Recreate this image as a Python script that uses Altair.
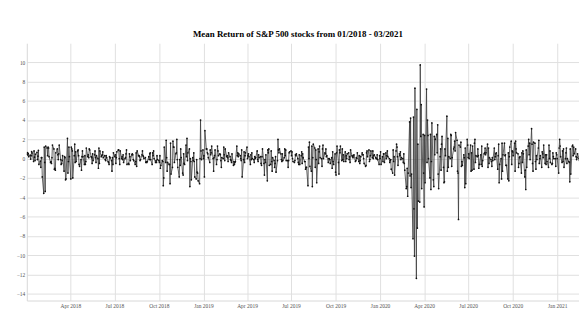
import altair as alt
import pandas as pd

TITLE = "Mean Return of S&P 500 stocks from 01/2018 - 03/2021"

# Daily mean return (%) per month, one value per business day
returns = {
    "2018-01": [0.45, 0.62, 0.38, 0.55, 0.20, 0.35, -0.05, 0.30, 0.72, 0.58, -0.30, 0.80, 0.15, -0.20, 0.45, 0.65, -0.10, 0.25, 0.85, -0.60, -0.25, -0.90, 0.10],
    "2018-02": [0.1, -1.9, -3.6, 1.2, -0.4, -3.4, 1.3, 1.1, 0.3, 1.2, 1.1, 0.2, -0.4, -0.3, -0.5, 0.1, 1.4, 1.0, -1.1, -1.0],
    "2018-03": [-1.2, 0.6, 1.0, 0.4, -0.1, 0.5, 1.4, -0.1, -0.6, -0.5, -0.2, 0.3, -1.3, 0.2, 0.1, -2.2, -2.1, 2.1, -1.5, -0.3, 1.2, 0.2],
    "2018-04": [-2.1, 1.2, 1.0, 0.8, -2.0, 0.3, 1.5, -0.4, 0.7, -0.3, 0.8, 0.9, 0.3, -0.6, -0.8, -0.1, -1.2, 0.2, 0.8, 0.2, -0.6],
    "2018-05": [0.3, -0.6, -0.3, 1.1, 0.2, 0.4, 0.1, 1.0, 0.9, 0.2, 0.1, -0.5, 0.5, -0.2, 0.4, 0.8, 0.1, -0.4, 0.3, 0.0, -1.0, 1.1, -0.5],
    "2018-06": [0.8, 0.2, 0.3, 0.4, 0.7, 0.1, 0.3, -0.1, -0.2, 0.3, 0.1, -0.3, -0.4, -0.6, 0.2, 0.1, -0.2, -1.3, 0.1, -0.6, 0.6],
    "2018-07": [0.2, 0.4, -0.5, 0.1, 0.7, 0.9, 0.9, 0.0, -0.6, 0.8, 0.0, 0.2, -0.1, 0.4, -0.4, 0.0, 0.1, 0.5, 0.9, -0.6, -0.5, -0.6],
    "2018-08": [0.5, 0.2, -0.2, 0.4, 0.5, 0.4, -0.1, -0.2, -0.6, -0.3, 0.6, -0.8, 0.8, 0.3, 0.3, 0.2, -0.2, -0.1, 0.4, 0.8, 0.3, 0.2, 0.0],
    "2018-09": [0.1, -0.4, -0.3, -0.4, -0.3, 0.2, -0.1, 0.5, 0.6, -0.1, -0.6, 0.6, 0.3, 0.8, 0.0, -0.4, -0.2, -0.4, 0.3, -0.1],
    "2018-10": [-0.2, -0.4, 0.3, -1.0, -0.7, -0.2, -0.3, -2.8, -2.0, 1.2, -0.4, 1.9, 0.1, -1.3, -0.4, -0.6, -0.6, -2.6, 1.6, -1.6, -0.9, 1.8, 1.2],
    "2018-11": [1.2, -0.4, 0.5, 0.6, 2.0, -0.1, -0.9, -1.9, -0.1, -0.7, 1.0, 0.1, -1.5, -1.7, 0.5, -0.5, -0.6, 1.4, 0.2, 2.1, -0.2, 0.6],
    "2018-12": [1.0, -2.9, 0.0, -0.3, -2.2, 0.1, -0.2, 0.6, -0.3, -1.9, -2.1, -0.1, -1.4, -1.5, -2.3, -2.6, 0.0, 4.0, 0.8, -0.1, 0.9],
    "2019-01": [0.0, 0.3, -1.9, 2.9, 1.0, 1.0, 0.6, 0.5, 0.1, -0.4, 0.9, 0.4, 0.6, 1.3, 0.0, -1.3, 0.1, 0.3, 0.9, -0.6, -0.1, 1.3, 0.8],
    "2019-02": [0.3, 0.5, 0.4, -0.2, -0.9, 0.1, 0.0, 1.2, 0.4, -0.2, 1.0, 0.2, 0.3, 0.1, -0.3, 0.6, 0.2, -0.1, -0.2, -0.4],
    "2019-03": [0.5, -0.7, -0.3, -0.6, -0.4, -0.3, 1.3, 0.3, 0.6, 0.2, 0.5, 0.3, 0.0, -0.2, 0.9, -1.9, -0.1, 0.7, -0.4, 0.3, 0.6],
    "2019-04": [1.2, 0.0, 0.3, 0.5, 0.2, -0.6, 0.4, -0.1, 0.6, 0.0, -0.1, -0.4, 0.2, 0.0, 0.1, 0.8, -0.1, -0.3, 0.4, 0.1, 0.2, -0.5],
    "2019-05": [-0.7, 0.2, 1.0, -0.5, -1.7, -0.1, -0.4, 0.4, -2.3, 0.9, 0.6, 1.0, -0.7, -0.6, 0.8, -0.3, -1.3, 0.1, -0.2, -0.9, -0.5, 0.2, -1.4],
    "2019-06": [-0.2, 2.0, 0.9, 0.6, 1.0, 0.5, -0.1, -0.3, 0.5, -0.2, 0.1, 1.0, 0.3, 0.9, -0.2, -0.2, -0.9, -0.2, 0.6, 0.7],
    "2019-07": [0.8, 0.3, 0.7, 0.0, -0.3, -0.4, -0.2, 0.4, 0.3, 0.5, 0.0, -0.4, -0.6, 0.4, -0.6, 0.3, 0.7, -0.5, 0.5, 0.1, -0.3, -0.3, -1.1],
    "2019-08": [-0.9, -0.9, -2.8, 1.2, 0.0, 1.7, -0.8, -1.3, 1.3, -2.9, 0.1, 1.5, 1.1, -0.9, 0.9, -0.1, -2.5, 1.0, -0.5, 0.7, 1.3, 0.1],
    "2019-09": [0.0, -0.8, 1.0, 1.4, 0.0, 0.6, 0.5, 1.0, 0.2, 0.3, -0.4, 0.0, 0.0, -0.1, -0.5, 0.1, -1.0, 0.7, -0.3, -0.6, 0.5],
    "2019-10": [-1.4, -1.7, 0.6, 1.3, -0.4, -1.6, 0.9, 0.6, 1.3, -0.2, 1.0, -0.1, 0.4, -0.3, 0.7, -0.3, 0.3, 0.0, 0.5, 0.6, -0.1, 0.2, -0.4],
    "2019-11": [0.9, 0.3, 0.2, 0.1, 0.3, 0.4, -0.3, -0.2, 0.1, 0.0, 0.6, -0.3, 0.3, -0.5, -0.2, 0.2, 0.6, 0.4, 0.4, 0.0, -0.5],
    "2019-12": [-0.8, -0.7, 0.6, 0.8, 0.2, 0.9, -0.3, -0.1, 0.3, 0.8, 0.1, 0.8, 0.0, 0.3, 0.4, 0.1, 0.0, 0.0, 0.4, -0.1, -0.6, 0.3],
    "2020-01": [0.0, 0.7, -0.6, 0.2, -0.3, 0.5, 0.5, -0.4, 0.6, 0.0, 0.3, 0.8, 0.2, 0.0, -0.4, -0.2, -0.1, -1.1, -1.5, 0.9, -0.3, 0.2, -1.7],
    "2020-02": [0.8, 1.5, 1.2, 0.2, -0.7, 0.5, 0.3, 0.7, -0.1, 0.1, 0.0, -0.4, 0.5, -0.5, -1.2, -3.1, -2.9, -1.0, -3.9, -1.5],
    "2020-03": [3.8, -1.8, 4.2, -3.0, -1.6, -8.3, 4.3, -5.2, -10.1, 7.3, -12.4, 5.1, -7.2, 1.5, -4.4, -4.5, 9.7, 2.3, 5.6, -3.1, 2.5, -1.5],
    "2020-04": [-5.0, 2.4, -2.5, 7.2, -0.4, 4.0, 2.4, 0.0, -2.0, 2.5, -3.2, -0.3, 3.7, -2.2, -2.9, 2.3, 0.4, 2.0, 2.5, 0.6, 3.5, -1.6],
    "2020-05": [-3.1, 0.2, 1.0, -1.2, 1.5, 2.3, -0.9, -2.5, -2.4, 1.0, 0.3, 4.4, -1.3, 2.1, -0.9, 0.2, 0.0, 2.5, 2.4, -0.8, 0.1],
    "2020-06": [1.0, 1.2, 1.8, 0.8, 2.7, 1.9, -1.3, -1.5, -6.3, 1.4, 1.2, 1.7, -0.8, -0.3, -0.7, 0.4, 0.1, -3.0, 1.1, -2.6, 2.0, 1.4],
    "2020-07": [0.1, 0.5, 0.0, 1.4, -1.3, 0.6, -1.2, 1.3, -1.1, 1.6, 2.0, -0.4, 0.3, 0.2, 1.0, 0.3, -1.0, -0.6, 0.4, -0.6, 1.3, -0.8, -0.2],
    "2020-08": [0.5, 0.6, 1.1, 0.4, 0.6, 1.5, -0.9, 1.1, -0.5, 0.1, -0.1, -0.3, -0.8, 0.1, -0.2, 1.1, -0.1, 0.2, 0.5, 0.6, -1.1],
    "2020-09": [0.3, 1.5, -2.5, -0.6, 0.0, -2.1, 1.6, -1.3, 0.4, 1.6, 0.3, 0.4, -0.7, -0.7, -2.1, 0.6, -2.3, 0.2, 1.2, 1.8, -0.6, 0.8],
    "2020-10": [0.7, 0.3, 1.6, -1.3, 1.8, 1.0, 0.6, 0.5, -0.9, -0.5, 0.1, 0.2, -1.5, 0.6, -0.4, 0.8, 0.5, -1.9, -1.2, -3.2, 0.9, -0.9],
    "2020-11": [1.3, 2.0, 0.4, 1.6, -0.1, 3.1, 1.5, -0.5, -1.3, 1.7, 1.6, -0.3, -1.1, 0.3, -0.1, 1.1, 1.9, -0.5, 0.0, 0.3, -0.9],
    "2020-12": [0.7, 0.5, 0.1, 1.4, -0.5, 0.4, -0.6, 0.4, -0.3, -0.9, 1.4, 0.0, 0.8, -0.4, -0.6, -0.5, 0.6, 0.2, 0.0, 0.0, -0.8, 0.6, 0.4],
    "2021-01": [0.0, -1.5, 1.1, 2.0, 1.3, 0.2, -0.4, 0.8, -0.3, 1.0, -0.9, 0.0, 0.6, 1.1, -0.5, 0.0, -0.3, -0.4, -2.4, 1.0, -1.6],
    "2021-02": [1.3, 1.4, 0.3, 1.2, 0.5, 1.0, 0.2, -0.1, 0.1, 0.5, 0.0, -0.2, -0.2, -0.5, 0.4, -0.6, 0.1, 1.3, -2.4, -0.6],
    "2021-03": [2.0, -0.9, -1.5, -1.6, 1.9, 1.0, -0.5, 1.4, 0.8, 0.2, 0.4, 0.0, -0.4, 0.3, -1.4, 0.1, -0.3, -0.7, -0.5, 1.3, 0.0, -0.2, 0.5],
}

x_ticks = ["2018-04-01", "2018-07-01", "2018-10-01", "2019-01-01", "2019-04-01",
           "2019-07-01", "2019-10-01", "2020-01-01", "2020-04-01", "2020-07-01",
           "2020-10-01", "2021-01-01"]
y_ticks = [-14, -12, -10, -8, -6, -4, -2, 0, 2, 4, 6, 8, 10]
x_range = ["2018-01-01", "2021-02-15"]
y_range = [-14.7, 11.95]

rows = []
for m, vals in returns.items():
    start = pd.Timestamp(m + "-01")
    days = pd.bdate_range(start, start + pd.offsets.MonthEnd(0))
    for d, v in zip(days, vals):
        rows.append({"date": d.strftime("%Y-%m-%d"), "ret": v})
df = pd.DataFrame(rows)


def ms(s):
    return int(pd.Timestamp(s, tz="UTC").timestamp() * 1000)


FONT = "Liberation Serif"
GRID = "#e0e0e0"

x_enc = alt.X(
    "date:T",
    scale=alt.Scale(type="utc", domain=[ms(x_range[0]), ms(x_range[1])]),
    axis=alt.Axis(title=None, values=[ms(t) for t in x_ticks],
                  labelExpr="utcFormat(datum.value, '%b %Y')",
                  labelFont=FONT, labelFontSize=5.5,
                  labelColor="#555555", ticks=False, labelPadding=3,
                  gridColor=GRID, domainColor="#d8d8d8", labelFlush=False),
)
y_enc = alt.Y(
    "ret:Q",
    scale=alt.Scale(domain=y_range, nice=False, zero=False),
    axis=alt.Axis(title=None, values=y_ticks, labelFont=FONT, labelFontSize=5.5,
                  labelColor="#555555", ticks=False, labelPadding=2,
                  gridColor=GRID, domainColor="#d8d8d8"),
)

base = alt.Chart(df).encode(x=x_enc, y=y_enc)
line = base.mark_line(color="#3a3a3a", strokeWidth=0.8, clip=True)
pts = base.mark_point(filled=True, color="#111111", size=3, opacity=1, clip=True)

chart = (
    alt.layer(line, pts)
    .properties(
        width=558,
        height=260,
        autosize="none",
        padding={"left": 19, "top": 34, "right": 0, "bottom": 12},
        title=alt.TitleParams(TITLE, font=FONT, fontSize=9, fontWeight="bold",
                              color="black", offset=4, dx=-5, anchor="middle"),
    )
    .configure_view(stroke=None)
)

chart.save("out.html", embed_options={"renderer": "svg", "actions": False})
